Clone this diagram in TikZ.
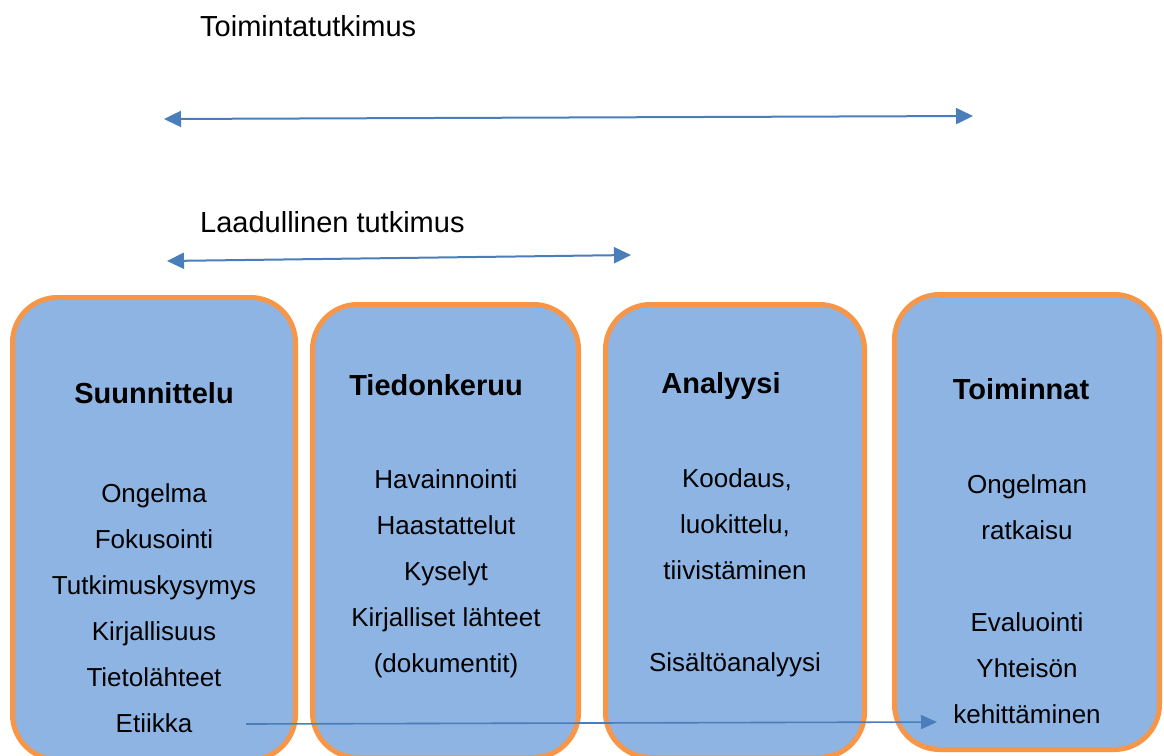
\documentclass[tikz,border=0pt]{standalone}
\usepackage{fontspec}
\setmainfont{Liberation Sans}
\usetikzlibrary{arrows.meta}
\definecolor{boxfill}{HTML}{8EB4E3}
\definecolor{boxedge}{HTML}{F79646}
\definecolor{arrowblue}{HTML}{4A7EBB}
\tikzset{
  stagebox/.style={draw=boxedge, line width=5pt, fill=boxfill, rounded corners=45pt, inner sep=0pt},
  heading/.style={anchor=base, inner sep=0pt, font=\fontsize{29pt}{34pt}\selectfont\bfseries},
  item/.style={anchor=base, inner sep=0pt, font=\fontsize{26pt}{30pt}\selectfont},
  label/.style={anchor=base west, inner sep=0pt, font=\fontsize{29pt}{34pt}\selectfont},
  span/.style={draw=arrowblue, line width=2pt, {Triangle[length=17pt,width=16pt]}-{Triangle[length=17pt,width=16pt]}},
  flow/.style={draw=arrowblue, line width=1.6pt, -{Triangle[length=16pt,width=14pt]}}
}
\begin{document}
\begin{tikzpicture}[x=1pt,y=-1pt]
\useasboundingbox (0,0) rectangle (1164,755);
\fill[white] (0,0) rectangle (1164,755);

% top labels and spans
\node[label] (lt) at (200,36) {Toimintatutkimus};
\coordinate (s1a) at (164,119);
\coordinate (s1b) at (973,116);
\draw[span] (s1a) -- (s1b);

\node[label] (ll) at (200,232) {Laadullinen tutkimus};
\coordinate (s2a) at (167,261);
\coordinate (s2b) at (631,255);
\draw[span] (s2a) -- (s2b);

% stage boxes
\node[stagebox, minimum width=283pt, minimum height=462pt] (b1) at (154,528.5) {};
\node[stagebox, minimum width=266pt, minimum height=453pt] (b2) at (445.5,531) {};
\node[stagebox, minimum width=259pt, minimum height=453pt] (b3) at (735,531) {};
\node[stagebox, minimum width=265pt, minimum height=455pt] (b4) at (1027,522) {};

% headings
\node[heading] (h1) at (154,403.5) {Suunnittelu};
\node[heading] (h2) at (436,395.5) {Tiedonkeruu};
\node[heading] (h3) at (721,393.5) {Analyysi};
\node[heading] (h4) at (1021,399.5) {Toiminnat};

% box 1 items
\node[item] (a1) at (154,502.5) {Ongelma};
\node[item] (a2) at (154,548.5) {Fokusointi};
\node[item] (a3) at (154,594.5) {Tutkimuskysymys};
\node[item] (a4) at (154,640.5) {Kirjallisuus};
\node[item] (a5) at (154,686.5) {Tietolähteet};
\node[item] (a6) at (154,732.5) {Etiikka};

% box 2 items
\node[item] (c1) at (446,488) {Havainnointi};
\node[item] (c2) at (446,534) {Haastattelut};
\node[item] (c3) at (446,580) {Kyselyt};
\node[item] (c4) at (446,626) {Kirjalliset lähteet};
\node[item] (c5) at (446,672) {(dokumentit)};

% box 3 items
\node[item] (d1) at (737,487.5) {Koodaus,};
\node[item] (d2) at (735,533.5) {luokittelu,};
\node[item] (d3) at (735,579.5) {tiivistäminen};
\node[item] (d4) at (735,671.5) {Sisältöanalyysi};

% box 4 items
\node[item] (e1) at (1027,493.5) {Ongelman};
\node[item] (e2) at (1027,539.5) {ratkaisu};
\node[item] (e3) at (1027,631.5) {Evaluointi};
\node[item] (e4) at (1027,677.5) {Yhteisön};
\node[item] (e5) at (1027,723.5) {kehittäminen};

% bottom flow arrow
\coordinate (fa) at (246,724);
\coordinate (fb) at (937,722);
\draw[flow] (fa) -- (fb);
\end{tikzpicture}
\end{document}
